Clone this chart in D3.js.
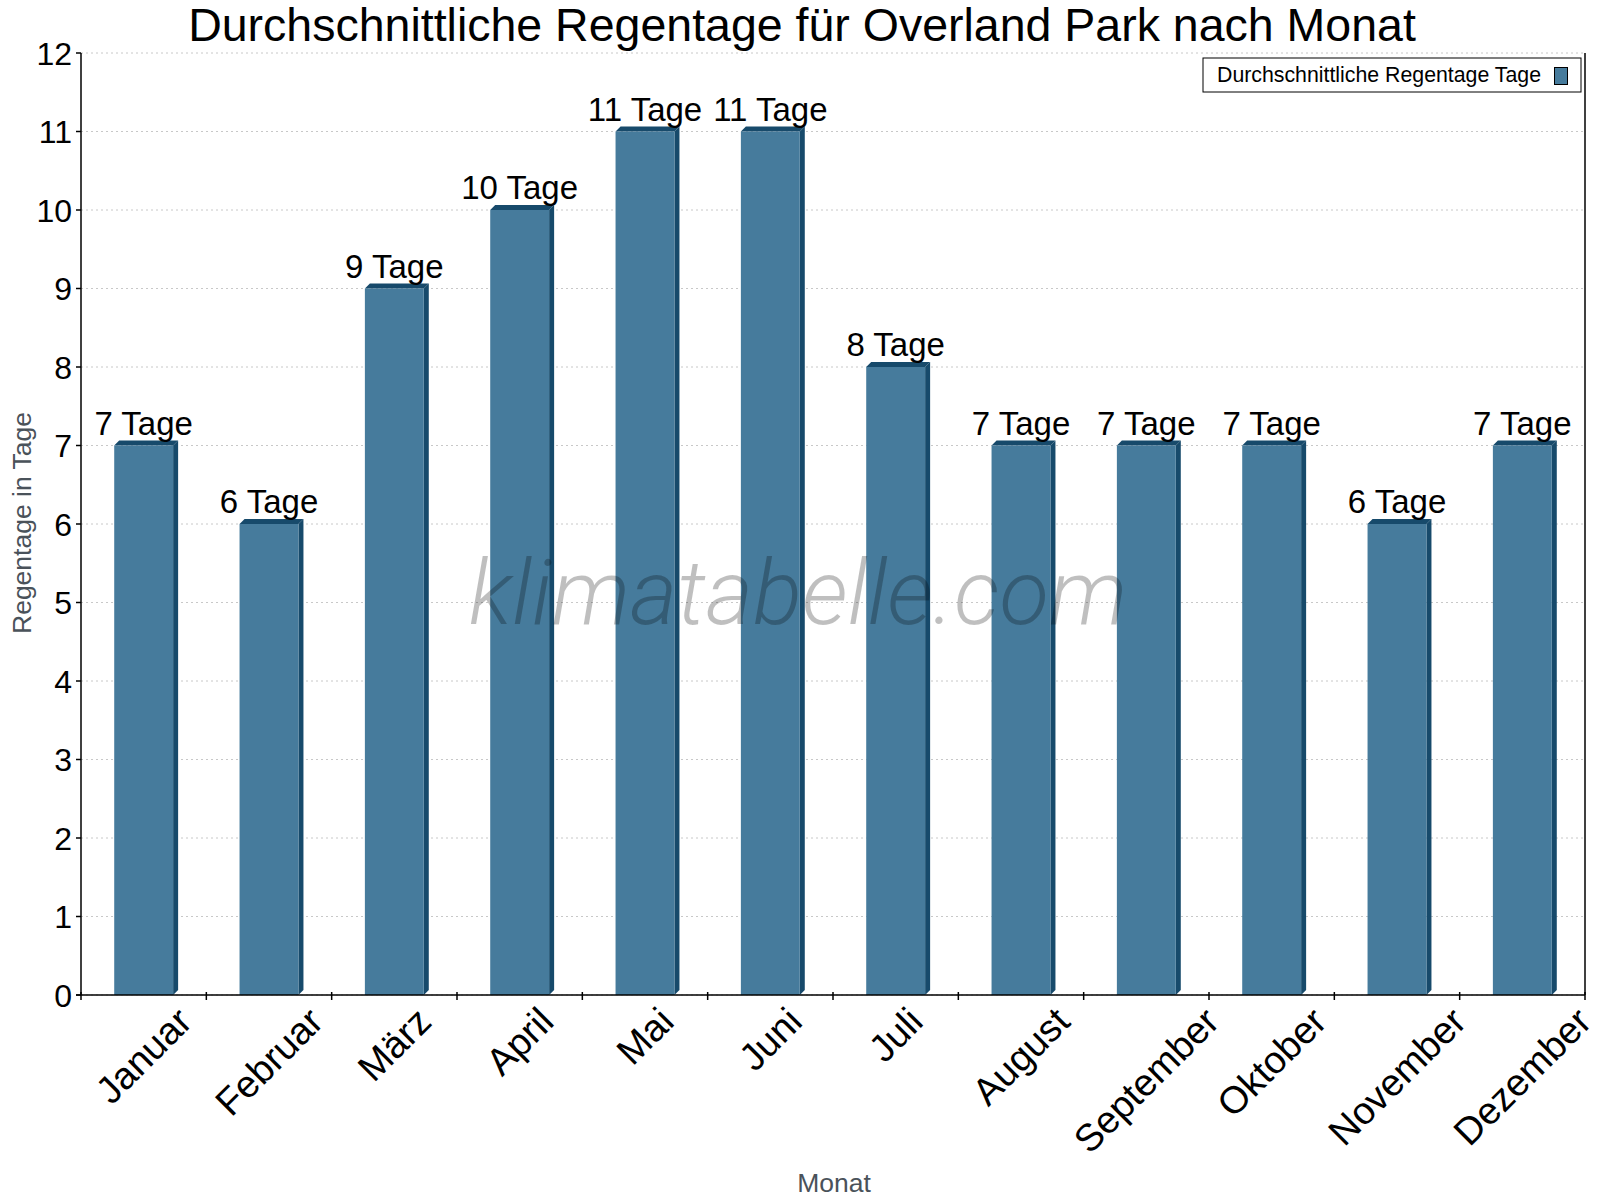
<!DOCTYPE html>
<html>
<head>
<meta charset="utf-8">
<script src="https://d3js.org/d3.v7.min.js"></script>
<style>
  html, body { margin: 0; padding: 0; background: #fff; }
  svg { display: block; font-family: "Liberation Sans", Arial, sans-serif; }
</style>
</head>
<body>
<div id="chart"></div>
<script>
// Daten
const months = ['Januar', 'Februar', 'März', 'April', 'Mai', 'Juni', 'Juli', 'August', 'September', 'Oktober', 'November', 'Dezember'];
const rainDays = [7, 6, 9, 10, 11, 11, 8, 7, 7, 7, 6, 7];
const yTicks = [0, 1, 2, 3, 4, 5, 6, 7, 8, 9, 10, 11, 12];
const seriesName = 'Durchschnittliche Regentage Tage';

const W = 1600, H = 1200;
const margin = { top: 53, right: 15, bottom: 205, left: 81 };
const innerW = W - margin.left - margin.right;
const innerH = H - margin.top - margin.bottom;

const faceColor = '#467b9c';
const sideColor = '#174a6b';
const depth = 5;

const svg = d3.select('#chart').append('svg')
  .attr('width', W).attr('height', H);

const x = d3.scaleBand().domain(months).range([0, innerW]);
const y = d3.scaleLinear().domain([0, 12]).range([innerH, 0]);

const g = svg.append('g').attr('transform', `translate(${margin.left},${margin.top})`);

// Gitterlinien
g.selectAll('.grid').data(yTicks).enter().append('line')
  .attr('x1', 0).attr('x2', innerW)
  .attr('y1', d => y(d)).attr('y2', d => y(d))
  .attr('stroke', '#c8c8c8').attr('stroke-width', 1)
  .attr('stroke-dasharray', '2,3');

// Wasserzeichen
svg.append('text')
  .attr('x', 798).attr('y', 624)
  .attr('text-anchor', 'middle')
  .style('font-family', 'Roboto, sans-serif')
  .style('font-weight', 300)
  .style('font-style', 'italic')
  .style('font-size', '91px')
  .attr('fill', 'rgba(0,0,0,0.25)')
  .text('klimatabelle.com');

// Balken (3D-Effekt)
const barW = x.bandwidth() * 0.47;
const bars = g.selectAll('.bar').data(months).enter().append('g');
const fx = (d) => x(d) + x.bandwidth() / 2 - barW / 2;

bars.append('path')
  .attr('fill', sideColor)
  .attr('d', (d, i) => {
    const x0 = fx(d) + barW, yt = y(rainDays[i]), yb = y(0);
    return `M${x0},${yt} L${x0 + depth},${yt - depth} L${x0 + depth},${yb - depth} L${x0},${yb} Z`;
  });
bars.append('path')
  .attr('fill', sideColor)
  .attr('d', (d, i) => {
    const x0 = fx(d), yt = y(rainDays[i]);
    return `M${x0},${yt} L${x0 + depth},${yt - depth} L${x0 + barW + depth},${yt - depth} L${x0 + barW},${yt} Z`;
  });
bars.append('rect')
  .attr('fill', faceColor)
  .attr('x', d => fx(d))
  .attr('y', (d, i) => y(rainDays[i]))
  .attr('width', barW)
  .attr('height', (d, i) => y(0) - y(rainDays[i]));

// Wertbeschriftungen
g.selectAll('.val').data(months).enter().append('text')
  .attr('x', d => x(d) + x.bandwidth() / 2)
  .attr('y', (d, i) => y(rainDays[i]) - 11)
  .attr('text-anchor', 'middle')
  .style('font-size', '33px')
  .attr('fill', '#000')
  .text((d, i) => `${rainDays[i]} Tage`);

// Achsen
g.append('line').attr('x1', 0).attr('x2', 0).attr('y1', 0).attr('y2', innerH)
  .attr('stroke', '#000').attr('stroke-width', 1.5);
g.append('line').attr('x1', innerW).attr('x2', innerW).attr('y1', 0).attr('y2', innerH)
  .attr('stroke', '#000').attr('stroke-width', 1.5);
g.append('line').attr('x1', -5).attr('x2', innerW).attr('y1', innerH).attr('y2', innerH)
  .attr('stroke', '#000').attr('stroke-width', 1.5);

g.selectAll('.ytick').data(yTicks).enter().append('line')
  .attr('x1', -5).attr('x2', 0)
  .attr('y1', d => y(d)).attr('y2', d => y(d))
  .attr('stroke', '#000').attr('stroke-width', 1.5);

g.selectAll('.ylab').data(yTicks).enter().append('text')
  .attr('x', -9).attr('y', d => y(d))
  .attr('dy', '0.36em')
  .attr('text-anchor', 'end')
  .style('font-size', '32px')
  .text(d => d);

const xTickPos = months.map(d => x(d)).concat([innerW]);
g.selectAll('.xtick').data(xTickPos).enter().append('line')
  .attr('x1', d => d).attr('x2', d => d)
  .attr('y1', innerH - 3).attr('y2', innerH + 5)
  .attr('stroke', '#000').attr('stroke-width', 1.5);

// Monatsbeschriftungen: gedreht, Oberkante bündig, horizontal zentriert
const labelTop = innerH + 9;
const labelH = 30;
g.selectAll('.xlab').data(months).enter().append('text')
  .attr('text-anchor', 'middle')
  .attr('dominant-baseline', 'central')
  .style('font-size', '38px')
  .text(d => d)
  .attr('transform', function(d) {
    const w = this.getComputedTextLength();
    const half = (w + labelH) * Math.SQRT1_2 / 2;
    return `translate(${x(d) + x.bandwidth() / 2},${labelTop + half}) rotate(-45)`;
  });

// Achsentitel
svg.append('text')
  .attr('transform', `translate(31,${margin.top + innerH / 2 - 1}) rotate(-90)`)
  .attr('text-anchor', 'middle')
  .style('font-size', '26.5px')
  .attr('fill', '#4a525a')
  .text('Regentage in Tage');

svg.append('text')
  .attr('x', 834).attr('y', 1192)
  .attr('text-anchor', 'middle')
  .style('font-size', '26.5px')
  .attr('fill', '#4a525a')
  .text('Monat');

// Titel
svg.append('text')
  .attr('x', 802).attr('y', 41)
  .attr('text-anchor', 'middle')
  .style('font-size', '46.5px')
  .text('Durchschnittliche Regentage für Overland Park nach Monat');

// Legende
const lg = svg.append('g');
lg.append('rect').attr('x', 1203).attr('y', 58).attr('width', 378).attr('height', 34)
  .attr('fill', '#fff').attr('stroke', '#000').attr('stroke-width', 1);
lg.append('text').attr('x', 1217).attr('y', 82)
  .style('font-size', '21.3px').text(seriesName);
lg.append('rect').attr('x', 1554.5).attr('y', 67.5).attr('width', 13).attr('height', 17)
  .attr('fill', faceColor).attr('stroke', '#000').attr('stroke-width', 1);
</script>
</body>
</html>
